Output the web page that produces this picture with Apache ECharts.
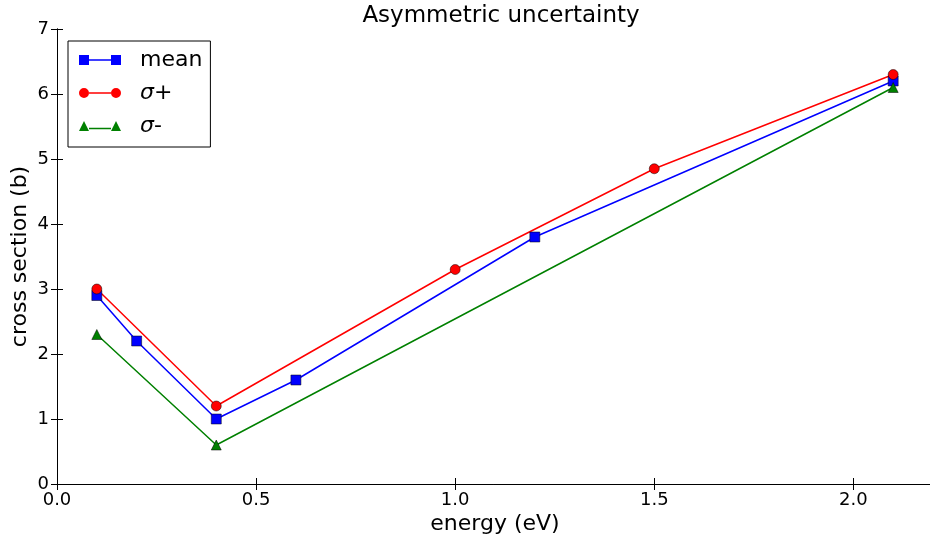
<!DOCTYPE html>
<html>
<head>
<meta charset="utf-8">
<script src="https://cdn.jsdelivr.net/npm/echarts@6/dist/echarts.min.js"></script>
<style>html,body{margin:0;padding:0;background:#fff}#c{width:930px;height:542px}</style>
</head>
<body>
<div id="c"></div>
<script>
const meanX = [0.1, 0.2, 0.4, 0.6, 1.2, 2.1];
const meanY = [2.9, 2.2, 1.0, 1.6, 3.8, 6.2];
const plusX = [0.1, 0.4, 1.0, 1.5, 2.1];
const plusY = [3.0, 1.2, 3.3, 4.85, 6.3];
const minusX = [0.1, 0.4, 2.1];
const minusY = [2.3, 0.6, 6.1];
const seriesNames = ['mean', 'σ+', 'σ-'];
const xTicks = [0.0, 0.5, 1.0, 1.5, 2.0];

const FONT = 'DejaVu Sans';
const zip = (xs, ys) => xs.map((x, i) => [x, ys[i]]);

const chart = echarts.init(document.getElementById('c'));
const axisCommon = {
  axisLine: { show: true, lineStyle: { color: '#000', width: 1 } },
  axisTick: { show: true, inside: true, length: 6, lineStyle: { color: '#000', width: 1 } },
  splitLine: { show: false }
};
const iconSq = 'path://M0,0H10V10H0Z M32,0H42V10H32Z M10,4.3H32V5.7H10Z';
const iconCi = 'path://M0,5A5,5 0 1,1 10,5A5,5 0 1,1 0,5Z M32,5A5,5 0 1,1 42,5A5,5 0 1,1 32,5Z M10,4.3H32V5.7H10Z';
const iconTr = 'path://M0,10L5,0L10,10Z M32,10L37,0L42,10Z M10,6.8H32V8.2H10Z';
const noBorder = { borderWidth: 0, borderColor: 'transparent' };

chart.setOption({
  animation: false,
  backgroundColor: '#fff',
  title: {
    text: 'Asymmetric uncertainty',
    left: 496, top: 0, textAlign: 'center',
    textStyle: { fontFamily: FONT, fontSize: 23, fontWeight: 'normal', color: '#000' }
  },
  grid: { left: 57, top: 29, width: 876, height: 455, containLabel: false, outerBoundsMode: 'none' },
  legend: {
    orient: 'vertical', left: 68, top: 41,
    padding: [8, 8, 10, 11],
    itemGap: 11, itemWidth: 42, itemHeight: 10,
    borderColor: '#000', borderWidth: 1, borderRadius: 0, backgroundColor: '#fff',
    itemStyle: noBorder,
    textStyle: { fontFamily: FONT, fontSize: 22, color: '#000', lineHeight: 22, padding: [0, 0, 0, 14],
      rich: { s: { fontFamily: FONT, fontStyle: 'italic', fontSize: 22, lineHeight: 22 } } },
    formatter: function (n) { return n === 'mean' ? n : '{s|σ}' + n.slice(1); },
    data: [
      { name: seriesNames[0], icon: iconSq, itemStyle: noBorder },
      { name: seriesNames[1], icon: iconCi, itemStyle: noBorder },
      { name: seriesNames[2], icon: iconTr, itemStyle: noBorder }
    ]
  },
  xAxis: [
    Object.assign({
      type: 'value', min: 0, max: 2.2, interval: 0.5, position: 'bottom',
      name: 'energy (eV)', nameLocation: 'middle', nameGap: 29, nameMoveOverlap: false,
      nameTextStyle: { fontFamily: FONT, fontSize: 22, color: '#000' },
      axisLabel: { fontFamily: FONT, fontSize: 18, color: '#000', margin: 7, showMaxLabel: false,
        formatter: v => xTicks.some(t => Math.abs(t - v) < 1e-9) ? v.toFixed(1) : '' }
    }, axisCommon),
    Object.assign({
      type: 'value', min: 0, max: 2.2, interval: 0.5, position: 'top',
      axisLabel: { show: false }
    }, axisCommon)
  ],
  yAxis: [
    Object.assign({
      type: 'value', min: 0, max: 7, interval: 1, position: 'left',
      name: 'cross section (b)', nameLocation: 'middle', nameGap: 26, nameRotate: 90, nameMoveOverlap: false,
      nameTextStyle: { fontFamily: FONT, fontSize: 22, color: '#000' },
      axisLabel: { fontFamily: FONT, fontSize: 18, color: '#000', margin: 8 }
    }, axisCommon),
    Object.assign({
      type: 'value', min: 0, max: 7, interval: 1, position: 'right',
      axisLabel: { show: false }
    }, axisCommon)
  ],
  series: [
    {
      name: seriesNames[0], type: 'line', data: zip(meanX, meanY),
      symbol: 'rect', symbolSize: 10, showAllSymbol: true,
      lineStyle: { color: '#0000ff', width: 1.5 },
      itemStyle: { color: '#0000ff', borderColor: '#000', borderWidth: 0.5 }
    },
    {
      name: seriesNames[1], type: 'line', data: zip(plusX, plusY),
      symbol: 'circle', symbolSize: 10, showAllSymbol: true,
      lineStyle: { color: '#ff0000', width: 1.5 },
      itemStyle: { color: '#ff0000', borderColor: '#000', borderWidth: 0.5 }
    },
    {
      name: seriesNames[2], type: 'line', data: zip(minusX, minusY),
      symbol: 'triangle', symbolSize: 10, showAllSymbol: true,
      lineStyle: { color: '#008000', width: 1.5 },
      itemStyle: { color: '#008000', borderColor: '#000', borderWidth: 0.5 }
    }
  ]
});
</script>
</body>
</html>
